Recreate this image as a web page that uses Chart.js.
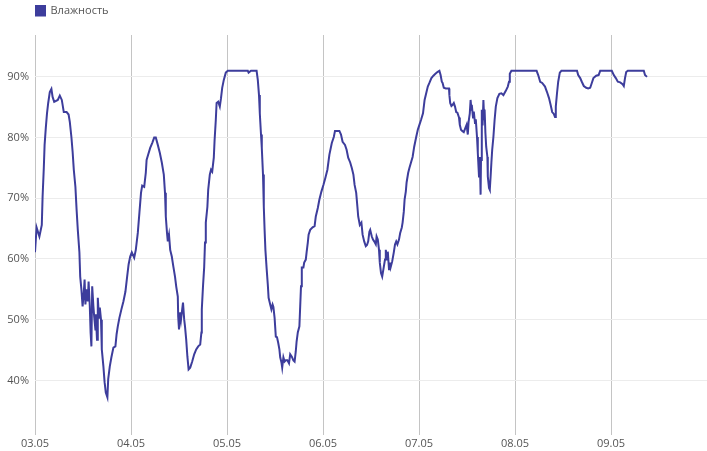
<!DOCTYPE html>
<html>
<head>
<meta charset="utf-8">
<script src="https://cdn.jsdelivr.net/npm/chart.js@4"></script>
<style>
    body { margin: 0; background: #fff; }
    #wrap { width: 707px; height: 451px; }
</style>
</head>
<body>
<div id="wrap"><canvas id="humidity-chart"></canvas></div>
<script>
// hours since 03.05 00:00
const hours = [
    0, 0.4, 1.1, 1.7, 1.9, 2.2, 2.4, 2.7, 3, 3.3, 3.7, 4.1, 4.4, 4.8, 5.7, 6.2, 6.7, 7.2, 7.9, 8.4,
    8.7, 9.1, 9.4, 9.7, 10.1, 10.4, 10.7, 11.1, 11.3, 11.6, 11.9, 12.2, 12.4, 12.6, 12.9, 13.2, 13.4, 13.7, 13.9, 14.1,
    14.3, 14.6, 14.8, 15.1, 15.2, 15.5, 15.7, 16, 16.2, 16.5, 16.7, 17.1, 17.4, 17.7, 18.1, 18.3, 18.7, 19.1, 19.6, 20.1,
    20.4, 20.7, 21.1, 21.6, 22.1, 22.6, 23, 23.4, 23.8, 24.2, 24.8, 25.2, 25.7, 26.1, 26.5, 26.8, 27.3, 27.7, 27.9, 28.3,
    28.8, 29.3, 29.8, 30.2, 30.7, 31.2, 31.7, 32.2, 32.5, 32.7, 33, 33.2, 33.5, 33.8, 34.2, 34.6, 35, 35.3, 35.7, 35.8,
    36, 36.3, 36.5, 36.8, 37, 37.3, 37.5, 37.8, 38.1, 38.4, 38.8, 39.3, 39.8, 40.3, 40.8, 41.3, 41.6, 41.7, 42, 42.3,
    42.5, 42.7, 43.1, 43.3, 43.7, 44, 44.3, 44.7, 44.9, 45.2, 45.4, 45.8, 46.2, 46.5, 46.8, 47.2, 47.7, 48.2, 53.2, 53.4,
    54, 55.4, 55.7, 56, 56.2, 56.5, 56.7, 57, 57.2, 57.4, 57.6, 57.9, 58.2, 58.4, 58.8, 59.1, 59.4, 59.6, 59.9, 60.2,
    60.5, 60.8, 61.1, 61.3, 61.6, 61.8, 62.1, 62.4, 62.7, 63.1, 63.5, 63.8, 64.2, 64.6, 64.9, 65.2, 65.4, 65.7, 66.1, 66.3,
    66.5, 66.7, 67.1, 67.3, 67.7, 67.9, 68.2, 68.4, 68.8, 69.4, 69.9, 70.2, 70.7, 71.1, 71.6, 72.1, 72.6, 73.1, 73.6, 74.2,
    74.7, 75, 76.1, 76.5, 76.9, 77.5, 77.9, 78.3, 78.8, 79.2, 79.6, 79.9, 80.3, 80.6, 80.8, 81.2, 81.6, 81.9, 82.3, 82.7,
    83, 83.3, 83.6, 83.8, 84.2, 84.5, 84.8, 85.2, 85.4, 85.7, 86, 86.2, 86.5, 86.8, 87.2, 87.5, 87.7, 88, 88.2, 88.5,
    88.7, 88.9, 89.3, 89.7, 90, 90.3, 90.6, 91, 91.3, 91.7, 91.9, 92.2, 92.4, 92.7, 92.9, 93.3, 93.6, 94, 94.4, 94.8,
    95.3, 95.7, 96.1, 96.5, 97, 97.4, 97.8, 98.2, 98.6, 99.1, 99.6, 100.1, 100.6, 101.1, 101.4, 101.7, 101.9, 102.2, 102.7, 103.5,
    103.6, 103.8, 104.1, 104.4, 104.7, 105, 105.3, 105.6, 106, 106.2, 106.5, 106.8, 107.2, 107.6, 107.9, 108.2, 108.4, 108.7, 108.9, 109.1,
    109.2, 109.5, 109.7, 110, 110.2, 110.5, 110.7, 111, 111.2, 111.4, 111.5, 111.7, 111.9, 112.1, 112.3, 112.4, 112.6, 112.8, 113.1, 113.2,
    113.5, 113.7, 113.9, 114.1, 114.3, 114.6, 114.9, 115.2, 115.6, 116.1, 116.6, 117.1, 117.7, 118.2, 118.5, 118.7, 119.1, 125.4, 125.8, 126.3,
    126.8, 127.5, 128, 128.5, 128.9, 129.3, 129.7, 130, 130.2, 130.5, 130.8, 131.2, 131.6, 135.5, 135.8, 136.3, 136.7, 137.2, 137.8, 138.3,
    138.8, 139.2, 139.6, 140.3, 140.9, 141.3, 144.2, 144.7, 145.2, 145.7, 146.3, 146.9, 147.2, 147.5, 147.8, 148.2, 152.2, 152.5, 153,
];
const humidity = [
    61.1, 65.2, 63.7, 65.6, 70.3, 75, 78.8, 81.6, 84, 85.7, 87.5, 88, 86.7, 85.9, 86.2, 86.9, 86.2, 84.2, 84.2, 83.8,
    82.6, 80.1, 77.7, 74.7, 71.9, 68.1, 64.8, 61.1, 57.1, 55, 52.2, 54.5, 56.6, 52.5, 55, 53, 56.3, 52.2, 47.9, 45.6,
    55.5, 52.2, 50.5, 48.4, 50.9, 46.7, 53.6, 50.3, 52, 50, 45.1, 42.3, 39.7, 38, 37.2, 40.2, 42.3, 43.8, 45.4, 45.6,
    47.6, 48.9, 50.3, 51.7, 53, 54.6, 56.9, 59.1, 60.4, 61.1, 60.2, 61.5, 64.3, 67.6, 70.9, 72.1, 71.9, 74.2, 76.3, 77.2,
    78.3, 79.1, 80, 80, 78.8, 77.5, 75.9, 73.9, 70.9, 67, 64.3, 62.9, 64, 61.5, 60.4, 58.7, 57.1, 55.5, 53.8, 50.5,
    48.4, 51.2, 50, 51.7, 52.8, 50, 48.9, 46.7, 43.9, 41.8, 42.1, 43.1, 44.3, 45.1, 45.6, 45.9, 47.9, 51.7, 55.5, 58.7,
    62.7, 66, 68.6, 71.4, 73.9, 74.7, 74.4, 76.7, 79.6, 82.9, 85.7, 85.9, 85.1, 86.5, 88.2, 89.5, 90.7, 91, 91, 90.7,
    91, 91, 89.5, 87, 84, 80.5, 78.3, 73.9, 68.6, 64.8, 61.5, 58.5, 55.8, 53.6, 52.5, 51.7, 52.5, 52.1, 50.3, 47.2,
    47.1, 46.2, 45.1, 43.8, 43, 42.1, 43.8, 43.1, 43.3, 43.3, 42.8, 44.3, 43.9, 43.3, 43.1, 44.8, 46.4, 47.9, 48.9, 52.2,
    55.5, 58.6, 58.6, 59.4, 59.9, 61.1, 62.7, 64, 64.8, 65.2, 65.4, 67, 68.4, 69.8, 71.1, 72.2, 73.4, 74.7, 77.2, 79.1,
    80.1, 81.1, 81.1, 80.5, 79.3, 78.8, 78, 76.7, 75.9, 75, 73.9, 72.2, 70.9, 68.6, 67, 65.6, 66, 64, 62.9, 62.1,
    62.3, 62.9, 64.5, 64.8, 63.7, 63.2, 62.9, 62.4, 63.7, 63.2, 61.5, 59.4, 57.7, 57.1, 58.7, 59.9, 61.5, 59.9, 61.2, 58.3,
    59.4, 58.6, 59.6, 61.1, 62.4, 62.9, 62.4, 63.2, 64.3, 65.2, 66, 67.8, 69.8, 71.1, 72.6, 74.2, 75, 75.9, 76.8, 78.5,
    80.1, 81.3, 82.1, 82.9, 84, 86.2, 87.3, 88.4, 89, 89.8, 90.2, 90.5, 90.8, 91, 90.3, 89.2, 89, 88.2, 88.1, 88.1,
    87, 85.7, 85.2, 85.4, 85.7, 85.1, 84.2, 84.1, 83.3, 82.1, 81.3, 81.1, 80.9, 81.6, 82.1, 80.5, 82.6, 84, 86.2, 84.6,
    85.4, 83.3, 84.3, 82.4, 83, 80.1, 77.5, 73.6, 76.8, 70.6, 76.3, 84.6, 82, 86.2, 83, 84.6, 80.8, 78.5, 76.8, 73.6,
    71.7, 71.4, 73.6, 75.9, 78, 80.1, 82.9, 85.1, 86.5, 87.2, 87.3, 87, 87.7, 88.4, 89.2, 90.5, 91, 91, 90.3, 89.2,
    89, 88.4, 87.5, 86.5, 85.4, 84.2, 83.9, 83.4, 85.1, 87.3, 89.2, 90.7, 91, 91, 90.3, 89.8, 89.2, 88.5, 88.2, 88.1,
    88.2, 89, 89.8, 90.2, 90.3, 91, 91, 90.3, 89.8, 89.2, 89.1, 88.8, 88.5, 89.8, 90.8, 91, 91, 90.3, 90,
];
const dayTicks = [0, 24, 48, 72, 96, 120, 144];
const dayLabels = ["03.05", "04.05", "05.05", "06.05", "07.05", "08.05", "09.05"];
const percentTicks = [40, 50, 60, 70, 80, 90];

Chart.defaults.font.family = '"Open Sans", sans-serif';
Chart.defaults.font.size = 11;
Chart.defaults.color = "#555";

// extra space between legend and plot area
const legendSpacing = {
    id: "legendSpacing",
    beforeLayout(chart) {
        const legend = chart.legend;
        if (!legend || legend._spaced) return;
        const fit = legend.fit;
        legend.fit = function () {
            fit.call(this);
            this.height += 9;
        };
        legend._spaced = true;
    },
};

/**
 * @type import('chart.js').ChartConfiguration
 */
const humidityChartConfig = {
    type: "line",
    data: {
        datasets: [
            {
                label: "Влажность",
                data: hours.map((h, i) => ({ x: h, y: humidity[i] })),
                borderColor: "#3d3d9c",
                backgroundColor: "#3d3d9c",
                borderWidth: 2,
                pointRadius: 0,
                tension: 0,
            },
        ],
    },
    options: {
        responsive: true,
        maintainAspectRatio: false,
        animation: false,
        layout: { padding: { top: 5, right: 0, bottom: 0, left: 0 } },
        plugins: {
            legend: {
                position: "top",
                align: "start",
                fullSize: false,
                labels: { boxWidth: 10, boxHeight: 10, padding: 0, color: "#555" },
            },
            tooltip: { enabled: false },
        },
        scales: {
            x: {
                type: "linear",
                min: 0,
                max: 168,
                grid: { color: "#c4c4c4", drawTicks: false },
                border: { display: false },
                afterBuildTicks: (axis) => {
                    axis.ticks = dayTicks.map((v) => ({ value: v }));
                },
                afterFit: (axis) => {
                    axis.height = 16;
                },
                ticks: {
                    padding: 2,
                    maxRotation: 0,
                    callback: (value, index) => dayLabels[index],
                },
            },
            y: {
                min: 31,
                max: 96.9,
                grid: { color: "#ececec", drawTicks: false },
                border: { display: false },
                afterBuildTicks: (axis) => {
                    axis.ticks = percentTicks.map((v) => ({ value: v }));
                },
                afterFit: (axis) => {
                    axis.width = 35;
                },
                ticks: {
                    padding: 6,
                    callback: (value) => value + "%",
                },
            },
        },
    },
    plugins: [legendSpacing],
};

new Chart(document.getElementById("humidity-chart"), humidityChartConfig);
</script>
</body>
</html>
